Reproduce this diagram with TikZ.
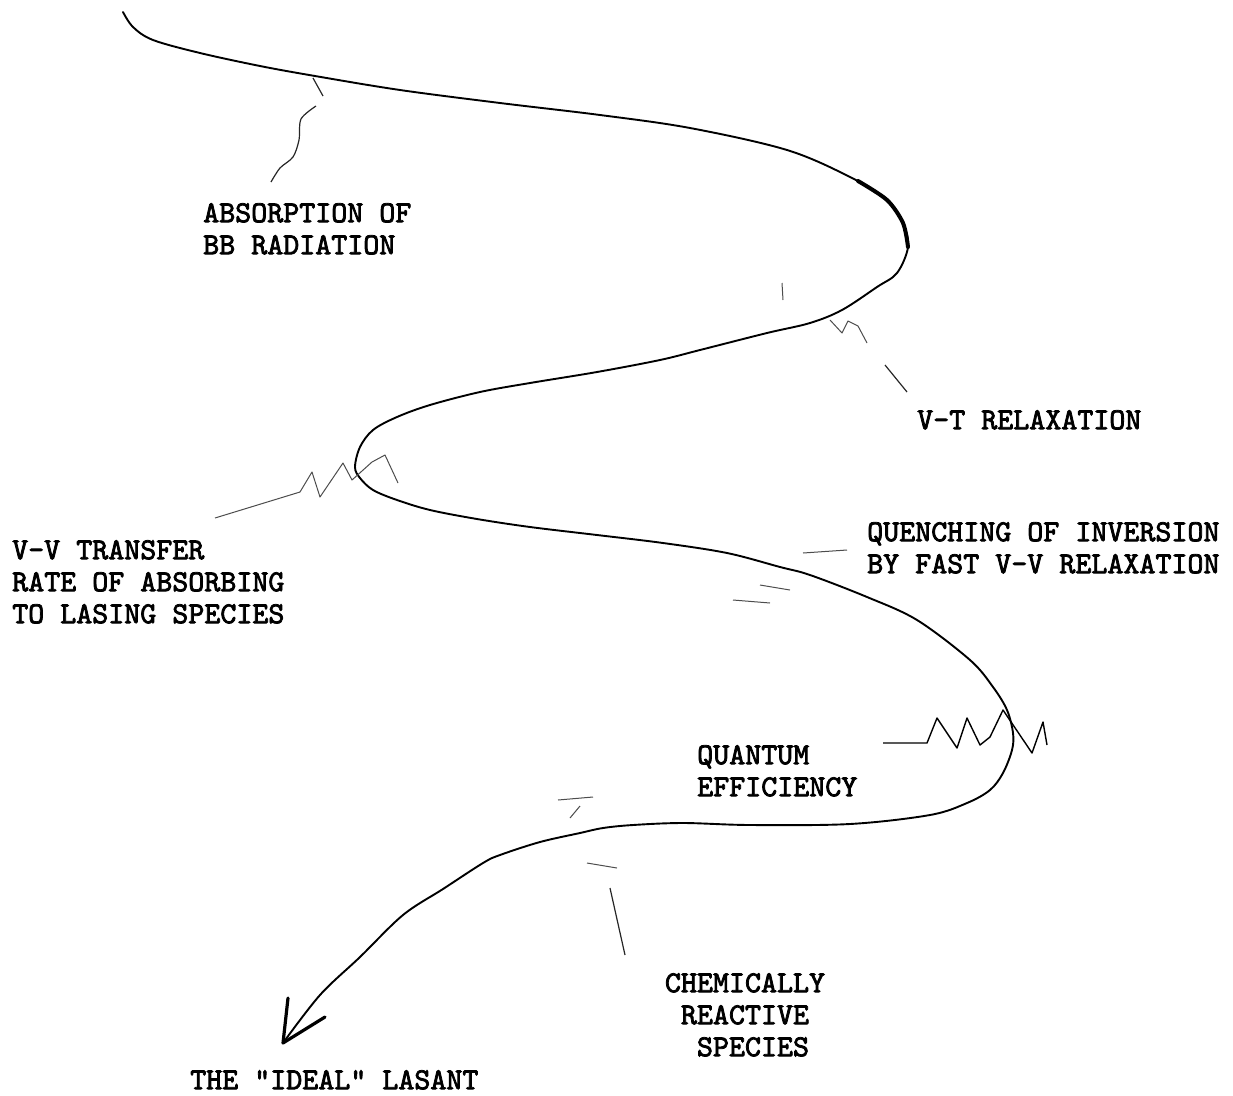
\documentclass[tikz,border=0pt]{standalone}
\usepackage{fontspec}
\usetikzlibrary{arrows.meta, positioning}
\newfontfamily\typer{lmmono10-regular.otf}[FakeBold=2.5]

\begin{document}
\begin{tikzpicture}[
        x=1pt, y=-1pt,
        curve/.style={line width=1.9pt, line cap=round, line join=round},
        heavy/.style={line width=4pt, line cap=round},
        spring/.style={line width=1pt, black!70, line join=round},
        leader/.style={line width=1.2pt, black!85},
        barb/.style={line width=3.2pt, line cap=round, line join=round},
        lbl/.style={inner sep=0pt, anchor=north west, align=left,
                    font=\typer\fontsize{30.5}{32}\selectfont}
    ]
        \useasboundingbox (0,0) rectangle (1233,1095);

        % the path of the lasant
        \coordinate (start) at (123,12);
        \coordinate (tip)   at (283,1043);
        \draw[curve] plot[smooth, tension=0.55] coordinates {
            (start) (133,27) (153,40) (200,53) (260,66) (315,76) (400,90)
            (500,103) (600,115) (690,128) (787,150) (850,177) (887,200)
            (903,223) (908,247) (897,273) (877,287) (842,310) (810,323)
            (767,333) (700,350) (660,360) (597,372) (530,383) (480,392)
            (430,405) (397,417) (373,430) (360,447) (355,467) (360,478)
            (373,490) (397,500) (430,510) (477,519) (530,527) (597,535)
            (663,543) (727,553) (780,567) (810,575) (867,597) (917,620)
            (970,660) (993,687) (1007,710) (1013,733) (1012,750) (1003,773)
            (990,790) (967,803) (930,815) (850,824) (750,825) (683,823)
            (633,825) (603,828) (580,833) (540,842) (500,855) (483,863)
            (443,889) (403,915) (360,957) (320,995) (tip)};
        \draw[heavy] plot[smooth] coordinates {(858,181) (887,200) (903,223) (908,247)};

        % arrow head
        \coordinate (barbA) at (288,998);
        \coordinate (barbB) at (325,1017);
        \draw[barb] (barbA) -- (tip) -- (barbB);

        % labels
        \node[lbl] (absorb)   at (203,203)  {ABSORPTION OF\\BB RADIATION};
        \node[lbl] (vtrelax)  at (917,410)  {V-T RELAXATION};
        \node[lbl] (vvtrans)  at (12,540)   {V-V TRANSFER\\RATE OF ABSORBING\\TO LASING SPECIES};
        \node[lbl] (quench)   at (867,522)  {QUENCHING OF INVERSION\\BY FAST V-V RELAXATION};
        \node[lbl] (quantum)  at (697,745)  {QUANTUM\\EFFICIENCY};
        \node[lbl, align=center, anchor=north] (chem) at (745,973)
            {CHEMICALLY\\REACTIVE\\ \ SPECIES};
        \node[lbl] (ideal)    at (190,1070) {THE "IDEAL" LASANT};

        % absorption leader
        \draw[leader] (313,78) -- (323,96);
        \draw[leader] plot[smooth] coordinates {(316,106) (301,119) (299,140) (293,157) (280,168) (271,182)};

        % V-T relaxation spring and leader
        \draw[spring] (782,283) -- (783,300);
        \draw[spring] (830,320) -- (842,333) -- (848,321) -- (858,326) -- (867,343);
        \draw[leader] (885,365) -- (907,392);

        % V-V transfer spring
        \draw[spring] (215,518) -- (300,492) -- (312,472) -- (320,497) -- (343,463)
            -- (352,480) -- (372,462) -- (385,455) -- (398,483);

        % quenching spring
        \draw[spring] (803,553) -- (847,550);
        \draw[spring] (760,585) -- (790,590);
        \draw[spring] (733,600) -- (770,603);

        % quantum efficiency spring
        \draw[spring, line width=1.4pt, black] (883,743) -- (927,743) -- (937,718) -- (957,748)
            -- (967,718) -- (980,745) -- (990,737) -- (1003,710) -- (1032,753)
            -- (1043,722) -- (1047,745);

        % chemically reactive spring and leader
        \draw[spring] (558,800) -- (593,797);
        \draw[spring] (570,818) -- (580,806);
        \draw[spring] (587,863) -- (617,868);
        \draw[leader] (610,888) -- (625,955);
    \end{tikzpicture}
\end{document}
